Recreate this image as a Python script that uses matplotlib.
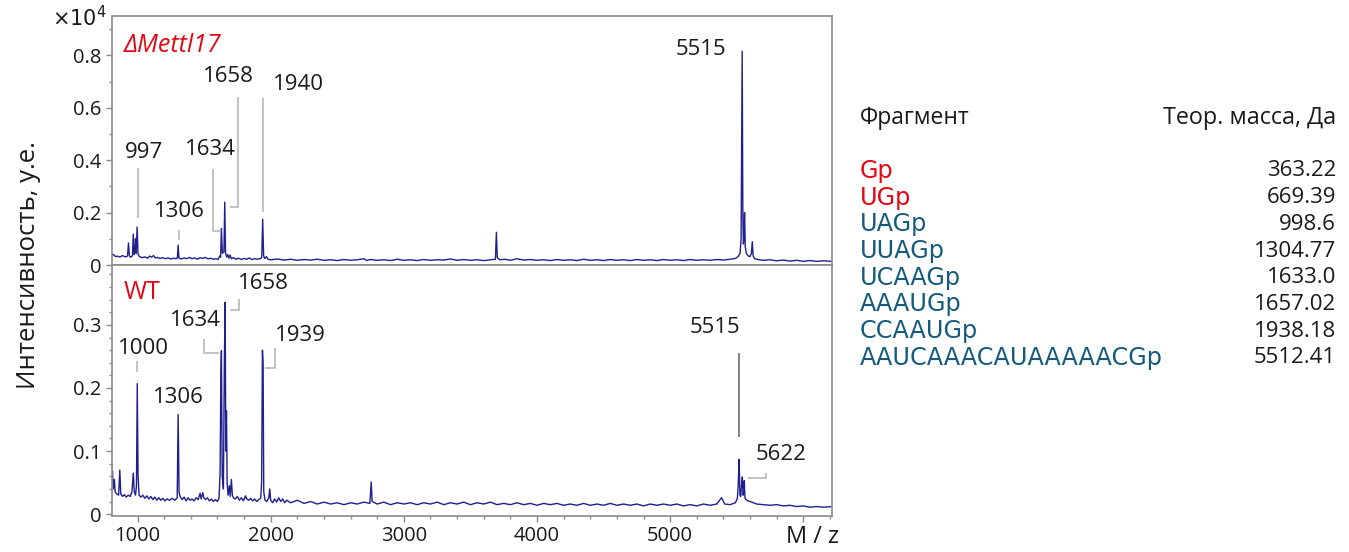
import numpy as np
import matplotlib.pyplot as plt
from matplotlib.ticker import MultipleLocator


OUTPUT_FILE = "out.png"

# intensities in units of 1e4
TOP_SPECTRUM = [
    (805, .045), (812, .038), (820, .040), (835, .032), (850, .034), (868, .030),
    (885, .036), (900, .033), (915, .031), (925, .035), (932, .084), (939, .034),
    (950, .030), (962, .036), (968, .118), (975, .040), (981, .050), (985, .100),
    (990, .045), (997, .145), (1004, .040), (1015, .032), (1035, .028), (1055, .031),
    (1075, .026), (1090, .034), (1105, .030), (1120, .036), (1135, .027), (1150, .029),
    (1170, .025), (1190, .028), (1210, .024), (1230, .027), (1250, .023), (1270, .026),
    (1290, .024), (1299, .027), (1305, .076), (1311, .026), (1330, .023), (1350, .027),
    (1370, .024), (1390, .029), (1410, .024), (1430, .027), (1450, .022), (1470, .028),
    (1490, .025), (1510, .029), (1530, .023), (1550, .026), (1570, .022), (1590, .024),
    (1605, .021), (1618, .035), (1624, .030), (1630, .140), (1637, .045), (1649, .050),
    (1655, .240), (1661, .045), (1670, .030), (1678, .040), (1686, .026), (1695, .038),
    (1705, .024), (1720, .028), (1740, .022), (1760, .026), (1780, .021), (1800, .025),
    (1820, .022), (1840, .027), (1860, .021), (1880, .024), (1900, .022), (1925, .025),
    (1933, .030), (1940, .175), (1947, .035), (1955, .025), (1968, .032), (1980, .022),
    (2000, .020), (2050, .023), (2100, .019), (2150, .022), (2200, .018), (2250, .021),
    (2300, .019), (2350, .022), (2400, .018), (2450, .020), (2500, .017), (2550, .021),
    (2600, .018), (2650, .020), (2700, .024), (2720, .018), (2750, .021), (2800, .018),
    (2850, .020), (2900, .017), (2950, .022), (3000, .018), (3050, .020), (3100, .017),
    (3150, .021), (3200, .018), (3250, .020), (3300, .019), (3350, .023), (3400, .018),
    (3450, .021), (3500, .018), (3550, .020), (3600, .017), (3650, .020), (3688, .022),
    (3695, .125), (3702, .028), (3720, .020), (3760, .022), (3800, .018), (3850, .024),
    (3900, .019), (3950, .021), (4000, .018), (4050, .020), (4100, .017), (4150, .021),
    (4200, .018), (4250, .020), (4300, .017), (4350, .022), (4400, .018), (4450, .020),
    (4500, .017), (4550, .021), (4600, .018), (4650, .020), (4700, .017), (4750, .021),
    (4800, .018), (4850, .020), (4900, .017), (4950, .021), (5000, .018), (5050, .020),
    (5100, .017), (5150, .021), (5200, .018), (5250, .020), (5300, .018), (5350, .021),
    (5400, .019), (5450, .022), (5490, .025), (5510, .032), (5525, .045), (5533, .100),
    (5537, .470), (5541, .816), (5546, .200), (5550, .080), (5554, .100), (5559, .200),
    (5564, .070), (5572, .045), (5585, .035), (5600, .032), (5610, .045), (5617, .089),
    (5623, .035), (5635, .024), (5660, .021), (5700, .018), (5750, .020), (5800, .016),
    (5850, .019), (5900, .015), (5950, .018), (6000, .014), (6050, .017), (6100, .014),
    (6150, .016), (6215, .014),
]

BOTTOM_SPECTRUM = [
    (805, .078), (808, .060), (812, .068), (818, .040), (826, .055), (832, .035),
    (845, .032), (858, .030), (867, .070), (874, .032), (888, .028), (900, .031),
    (915, .027), (930, .030), (945, .028), (958, .035), (968, .065), (976, .035),
    (985, .030), (992, .045), (998, .207), (1004, .060), (1012, .030), (1025, .027),
    (1040, .030), (1055, .025), (1070, .029), (1085, .024), (1100, .028), (1115, .023),
    (1130, .027), (1145, .022), (1160, .026), (1175, .022), (1190, .025), (1205, .021),
    (1220, .024), (1240, .022), (1260, .025), (1280, .022), (1298, .026), (1305, .158),
    (1312, .035), (1320, .028), (1335, .023), (1350, .027), (1365, .021), (1380, .026),
    (1395, .022), (1410, .024), (1425, .021), (1440, .026), (1455, .023), (1470, .033),
    (1478, .024), (1490, .034), (1498, .026), (1510, .023), (1525, .026), (1540, .021),
    (1555, .024), (1570, .020), (1585, .023), (1600, .020), (1612, .025), (1620, .065),
    (1626, .220), (1630, .259), (1636, .060), (1645, .040), (1652, .240), (1658, .336),
    (1663, .100), (1668, .164), (1673, .050), (1680, .030), (1690, .045), (1696, .028),
    (1705, .055), (1712, .030), (1720, .026), (1735, .024), (1750, .028), (1765, .022),
    (1780, .026), (1795, .021), (1810, .029), (1820, .024), (1835, .022), (1850, .025),
    (1865, .021), (1880, .024), (1895, .020), (1910, .023), (1925, .025), (1932, .050),
    (1938, .260), (1943, .240), (1948, .035), (1958, .022), (1970, .020), (1985, .025),
    (1993, .040), (2000, .022), (2015, .018), (2030, .024), (2045, .019), (2060, .026),
    (2075, .020), (2090, .024), (2105, .018), (2120, .022), (2150, .018), (2200, .022),
    (2250, .017), (2300, .020), (2350, .016), (2400, .019), (2450, .016), (2500, .018),
    (2550, .015), (2600, .018), (2650, .016), (2700, .019), (2745, .017), (2755, .051),
    (2762, .020), (2800, .016), (2850, .019), (2900, .015), (2950, .018), (3000, .016),
    (3050, .018), (3100, .015), (3150, .018), (3200, .016), (3250, .019), (3300, .015),
    (3350, .018), (3400, .016), (3450, .019), (3500, .015), (3550, .018), (3600, .016),
    (3650, .019), (3700, .015), (3750, .017), (3800, .015), (3850, .018), (3900, .015),
    (3950, .017), (4000, .014), (4050, .017), (4100, .015), (4150, .017), (4200, .014),
    (4250, .016), (4300, .014), (4350, .017), (4400, .014), (4450, .016), (4500, .014),
    (4550, .017), (4600, .014), (4650, .016), (4700, .014), (4750, .016), (4800, .013),
    (4850, .016), (4900, .014), (4950, .016), (5000, .014), (5050, .016), (5100, .013),
    (5150, .015), (5200, .013), (5250, .016), (5300, .014), (5350, .016), (5386, .026),
    (5410, .016), (5450, .015), (5490, .018), (5505, .025), (5512, .050), (5518, .087),
    (5524, .030), (5530, .028), (5536, .045), (5542, .059), (5548, .030), (5552, .035),
    (5557, .053), (5562, .025), (5575, .022), (5600, .020), (5650, .016), (5700, .015),
    (5750, .014), (5800, .015), (5850, .013), (5900, .014), (5950, .012), (6000, .013),
    (6050, .011), (6100, .012), (6150, .011), (6215, .012),
]

TOP_LABELS = ["997", "1306", "1634", "1658", "1940", "5515"]
BOTTOM_LABELS = ["1000", "1306", "1634", "1658", "1939", "5515", "5622"]
X_TICK_LABELS = ["1000", "2000", "3000", "4000", "5000"]

FRAGMENTS = ["Gp", "UGp", "UAGp", "UUAGp", "UCAAGp", "AAAUGp", "CCAAUGp",
             "AAUCAAACAUAAAAACGp"]
MASSES = ["363.22", "669.39", "998.6", "1304.77", "1633.0", "1657.02", "1938.18",
          "5512.41"]
FRAGMENT_KIND = ["red", "red", "blue", "blue", "blue", "blue", "blue", "blue"]

# layout of peak labels: (text x, text y, leader polyline)
TOP_LAYOUT = [
    (1045, .430, [(1000, .370), (1000, .179)]),
    (1315, .206, [(1315, .133), (1315, .095)]),
    (1548, .442, [(1568, .366), (1568, .131), (1623, .131)]),
    (1683, .720, [(1752, .640), (1752, .222), (1698, .222)]),
    (2205, .690, [(1940, .639), (1940, .203)]),
    (5235, .822, []),
]
BOTTOM_LAYOUT = [
    (1043, .262, [(993, .243), (993, .225)]),
    (1305, .185, []),
    (1435, .307, [(1502, .278), (1502, .256), (1610, .256)]),
    (1947, .365, [(1698, .323), (1760, .323), (1760, .341)]),
    (2222, .283, [(2035, .263), (2035, .231), (1960, .231)]),
    (5335, .296, [(5517, .255), (5517, .123)]),
    (5830, .095, [(5585, .058), (5723, .058), (5723, .065)]),
]

LINE_COLOR = "#1f1f8f"
SPINE_COLOR = "#8a8a8a"
LEADER_COLOR = "#b8b8b8"
RED = "#e30613"
BLUE = "#135a7c"
TEXT = "#1a1a1a"

plt.rcParams["font.family"] = ["Open Sans", "DejaVu Sans"]


def style_axis(ax, ymajor, yminor):
    for side in ax.spines.values():
        side.set_color(SPINE_COLOR)
        side.set_linewidth(1.2)
    ax.set_xlim(805, 6215)
    ax.xaxis.set_major_locator(MultipleLocator(1000))
    ax.xaxis.set_minor_locator(MultipleLocator(200))
    ax.yaxis.set_major_locator(MultipleLocator(ymajor))
    ax.yaxis.set_minor_locator(MultipleLocator(yminor))
    ax.tick_params(which="both", direction="out", color=SPINE_COLOR, labelsize=14.5,
                   labelcolor=TEXT, width=1)
    ax.tick_params(which="major", length=4)
    ax.tick_params(which="minor", length=2.5)
    ax.yaxis.set_major_formatter(
        plt.FuncFormatter(lambda v, p: "0" if abs(v) < 1e-9 else f"{v:g}"))
    ax.xaxis.set_major_formatter(
        plt.FuncFormatter(lambda v, p: f"{v:.0f}" if f"{v:.0f}" in X_TICK_LABELS else ""))


def draw_labels(ax, labels, layout, leader_colors=None):
    for i, (text, (tx, ty, path)) in enumerate(zip(labels, layout)):
        ax.text(tx, ty, text, ha="center", va="center", fontsize=16, color=TEXT)
        if path:
            xs, ys = zip(*path)
            color = leader_colors[i] if leader_colors else LEADER_COLOR
            ax.plot(xs, ys, color=color, lw=1.2, solid_capstyle="butt")


def main():
    fig = plt.figure(figsize=(13.49, 5.52), dpi=100)
    ax_top = fig.add_axes([0.0827, 0.5199, 0.534, 0.451])
    ax_bot = fig.add_axes([0.0827, 0.0652, 0.534, 0.4547])

    top = np.array(TOP_SPECTRUM).T
    bot = np.array(BOTTOM_SPECTRUM).T

    ax_top.plot(top[0], top[1], color=LINE_COLOR, lw=1.0)
    ax_bot.plot(bot[0], bot[1], color=LINE_COLOR, lw=1.0)

    style_axis(ax_top, 0.2, 0.1)
    ax_top.set_ylim(0, 0.95)
    ax_top.tick_params(axis="x", which="both", bottom=False, labelbottom=False)

    style_axis(ax_bot, 0.1, 0.02)
    ax_bot.set_ylim(-0.003, 0.395)

    draw_labels(ax_top, TOP_LABELS, TOP_LAYOUT)
    bottom_colors = [LEADER_COLOR] * len(BOTTOM_LABELS)
    bottom_colors[5] = "#6e6e6e"
    draw_labels(ax_bot, BOTTOM_LABELS, BOTTOM_LAYOUT, bottom_colors)

    ax_top.text(895, 0.838, "ΔMettl17", ha="left", va="center", fontsize=18,
                color=RED, style="italic")
    ax_bot.text(895, 0.352, "WT", ha="left", va="center", fontsize=18, color=RED)

    fig.text(0.079, 0.967, r"$\times10^4$", ha="right", va="center", fontsize=15,
             color=TEXT)
    fig.text(0.021, 0.52, "Интенсивность, у.е.", rotation=90, ha="center",
             va="center", fontsize=18.5, color=TEXT)
    fig.text(0.602, 0.027, "M / z", ha="center", va="center", fontsize=17,
             color=TEXT)

    # fragment table
    fig.text(860 / 1349, 1 - 118 / 552, "Фрагмент", ha="left", va="center",
             fontsize=16.5, color=TEXT)
    fig.text(1336 / 1349, 1 - 118 / 552, "Теор. масса, Да", ha="right",
             va="center", fontsize=16.8, color=TEXT)
    for i, (frag, mass, kind) in enumerate(zip(FRAGMENTS, MASSES, FRAGMENT_KIND)):
        y = 1 - (171 + i * 26.67) / 552
        fig.text(860 / 1349, y, frag, ha="left", va="center", fontsize=17.2,
                 family=["DejaVu Sans"], color=RED if kind == "red" else BLUE)
        fig.text(1336 / 1349, y, mass, ha="right", va="center", fontsize=16,
                 color=TEXT)

    fig.savefig(OUTPUT_FILE, dpi=100)
    plt.close(fig)


if __name__ == "__main__":
    main()
